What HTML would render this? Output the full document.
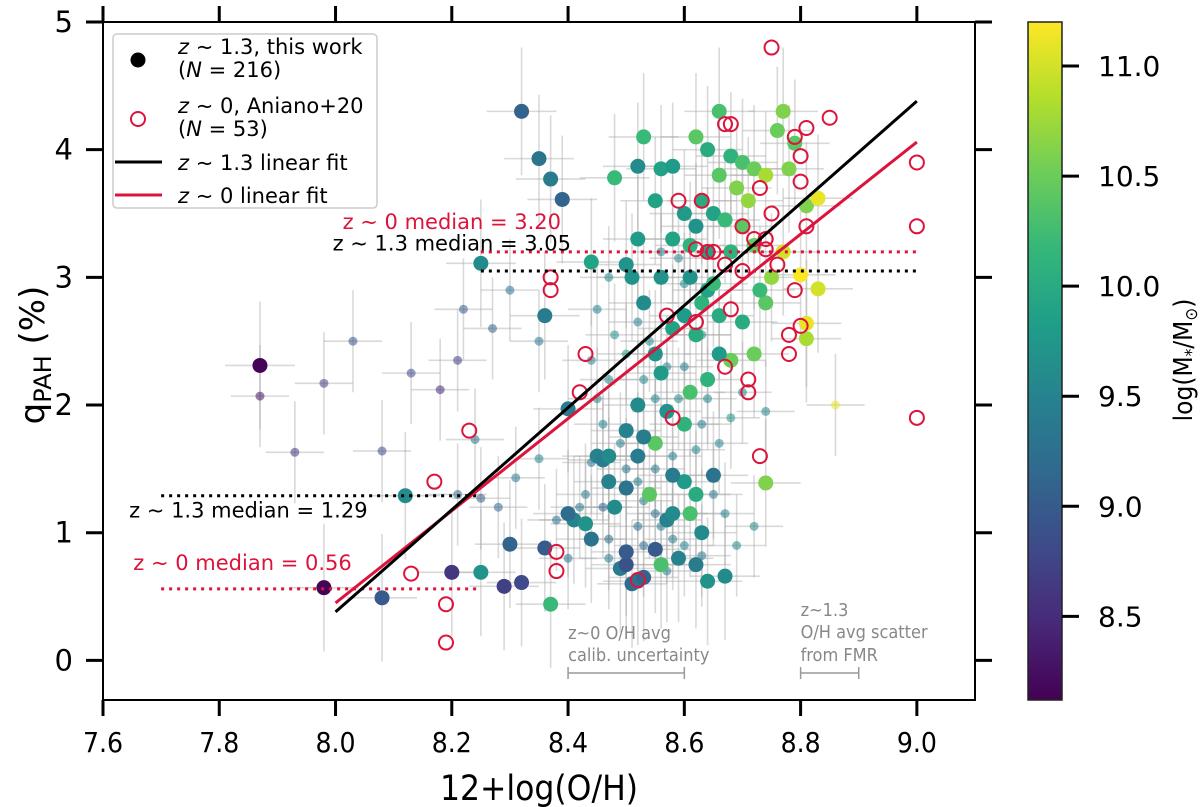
<!DOCTYPE html>
<html><head><meta charset="utf-8"><style>
body{margin:0;background:#fff}
svg{display:block;font-family:"DejaVu Sans","Liberation Sans",sans-serif}
</style></head><body>
<svg id="chart" width="1200" height="807" viewBox="0 0 1200 807"></svg>
<script>
// ---- data ----
const bigX=[7.87,7.98,8.08,8.12,8.20,8.25,8.29,8.32,8.30,8.36,8.37,8.32,8.35,8.37,8.39,8.36,8.25,8.44,8.48,8.40,8.41,8.43,8.44,8.40,8.45,8.46,8.47,8.48,8.49,8.51,8.50,8.52,8.55,8.56,8.50,8.53,8.57,8.58,8.59,8.61,8.62,8.64,8.67,8.60,8.65,8.74,8.55,8.50,8.53,8.52,8.56,8.55,8.62,8.60,8.58,8.63,8.64,8.66,8.65,8.61,8.56,8.53,8.51,8.52,8.50,8.55,8.56,8.58,8.52,8.53,8.66,8.62,8.64,8.68,8.70,8.72,8.74,8.66,8.69,8.71,8.63,8.65,8.67,8.70,8.62,8.60,8.58,8.61,8.64,8.68,8.72,8.76,8.77,8.79,8.78,8.81,8.83,8.80,8.83,8.81,8.81,8.74,8.72,8.73,8.70,8.68,8.66,8.64,8.61,8.57,8.60,8.52,8.58,8.63,8.62,8.54,8.47,8.50,8.75,8.77];
const bigY=[2.31,0.57,0.49,1.29,0.69,0.69,0.58,0.61,0.91,0.88,0.44,4.30,3.93,3.77,3.61,2.70,3.11,3.12,3.78,1.97,1.10,1.07,0.95,1.15,1.60,1.57,1.60,1.20,0.72,0.60,0.75,0.62,0.87,0.75,0.85,0.65,1.10,1.15,0.80,1.15,0.75,0.62,0.66,1.40,1.45,1.39,1.70,1.80,1.75,2.00,2.25,2.40,2.55,2.70,2.60,2.80,2.90,2.70,2.95,3.00,3.00,2.80,3.00,3.30,3.10,3.60,3.85,3.87,3.87,4.10,4.30,4.10,4.00,3.95,3.90,3.85,3.80,3.80,3.70,3.60,3.60,3.50,3.45,3.40,3.40,3.50,3.30,3.25,3.20,3.20,3.25,4.15,4.30,4.05,3.85,3.56,3.62,3.02,2.91,2.64,2.52,2.80,2.40,2.90,2.65,2.35,2.40,2.20,2.10,1.95,1.85,1.60,1.45,1.00,1.30,1.30,1.40,1.35,3.00,3.20];
const bigM=[8.15,8.15,9.0,9.6,8.6,9.7,8.7,8.8,9.1,9.0,10.2,9.1,9.3,9.4,9.1,9.4,9.6,9.9,10.2,9.4,9.5,9.7,9.3,9.2,9.5,9.4,9.6,9.6,9.4,9.2,8.9,9.3,9.0,10.3,9.0,9.1,9.5,9.6,9.5,10.3,9.4,9.7,9.6,9.8,9.3,10.6,10.4,9.5,9.4,9.6,9.8,9.7,10.0,9.8,9.9,10.1,9.9,10.0,10.2,9.7,9.7,9.6,9.7,9.8,9.7,9.9,9.9,9.8,9.6,10.2,10.3,10.4,10.0,10.1,10.3,10.5,10.8,10.4,10.6,10.7,10.0,9.9,10.2,10.4,9.7,9.8,9.9,10.1,9.9,10.1,10.5,10.5,10.6,10.4,10.6,10.6,11.1,11.2,11.0,11.1,10.8,10.4,10.5,10.2,10.0,10.5,9.8,10.1,10.3,9.7,10.1,9.4,9.4,9.6,10.0,10.4,9.5,9.3,10.7,11.0];
const smallX=[7.87,7.93,7.98,8.03,8.13,8.21,8.22,8.27,8.30,8.18,8.08,8.21,8.25,8.28,8.31,8.24,8.35,8.44,8.47,8.45,8.46,8.49,8.50,8.52,8.53,8.55,8.47,8.46,8.43,8.52,8.56,8.58,8.60,8.55,8.58,8.62,8.63,8.64,8.66,8.68,8.70,8.65,8.67,8.69,8.72,8.48,8.50,8.52,8.54,8.57,8.59,8.60,8.55,8.53,8.47,8.45,8.60,8.59,8.56,8.63,8.86,8.74,8.44,8.42,8.38,8.40,8.47,8.53,8.57,8.63,8.35];
const smallY=[2.07,1.63,2.17,2.50,2.25,2.35,2.75,2.60,2.90,2.12,1.64,1.30,1.27,1.20,1.43,1.73,2.50,2.35,2.20,2.05,1.85,1.70,1.50,1.40,1.25,1.15,0.95,1.20,1.30,1.05,1.05,0.95,0.90,1.50,1.60,1.65,1.85,2.05,1.70,1.90,2.10,1.30,1.15,0.90,1.05,2.55,2.40,2.65,2.50,2.30,2.05,2.30,2.05,2.20,3.00,2.75,2.95,3.15,3.20,2.55,2.00,1.95,1.55,1.20,1.10,0.80,0.80,0.90,0.70,0.82,1.58];
const smallM=[8.3,8.6,8.7,8.9,8.8,8.7,9.0,9.1,9.3,8.5,8.8,9.2,9.0,9.2,9.4,9.3,9.3,9.5,9.6,9.5,9.5,9.4,9.3,9.5,9.4,9.3,9.2,9.1,9.4,9.3,9.4,9.4,9.5,9.4,9.5,9.6,9.4,9.6,9.5,9.7,9.5,9.4,9.5,9.6,9.6,9.7,9.8,9.5,9.6,9.5,9.6,9.5,9.6,9.6,9.6,9.5,9.6,9.5,9.5,9.6,11.1,9.5,9.3,9.4,9.3,9.3,9.4,9.2,9.4,9.4,9.5];
const z0X=[8.75,8.85,8.67,8.68,8.81,8.79,8.80,8.80,8.73,8.75,8.63,8.81,8.72,8.65,8.62,8.67,8.76,8.74,8.74,8.70,8.64,8.37,8.37,8.68,8.79,8.80,8.78,8.78,8.57,8.67,8.71,8.71,8.43,8.42,8.58,8.23,8.17,8.73,8.38,8.38,8.52,8.13,8.19,8.19,9.00,9.00,9.00,8.59,8.62,8.70];
const z0Y=[4.80,4.25,4.20,4.20,4.17,4.10,3.95,3.75,3.70,3.50,3.60,3.40,3.30,3.20,3.22,3.10,3.10,3.22,3.30,3.05,3.20,3.00,2.90,2.75,2.90,2.62,2.55,2.40,2.70,2.30,2.20,2.10,2.40,2.10,1.90,1.80,1.40,1.60,0.85,0.70,0.63,0.68,0.44,0.14,3.90,3.40,1.90,3.60,2.65,3.40];
const fitZ13=[[8.0,0.38],[9.0,4.38]];
const fitZ0=[[8.0,0.45],[9.0,4.06]];
const medians=[{y:3.20,x0:8.25,x1:9.0,c:"#dc143c",label:"z ∼ 0 median = 3.20",lx:8.2,ly:3.38},
 {y:3.05,x0:8.25,x1:9.0,c:"#000",label:"z ∼ 1.3 median = 3.05",lx:8.2,ly:3.21},
 {y:1.29,x0:7.70,x1:8.25,c:"#000",label:"z ∼ 1.3 median = 1.29",lx:7.85,ly:1.12},
 {y:0.56,x0:7.70,x1:8.25,c:"#dc143c",label:"z ∼ 0 median = 0.56",lx:7.84,ly:0.71}];
const xTicks=[7.6,7.8,8.0,8.2,8.4,8.6,8.8,9.0];
const xTickLabels=["7.6","7.8","8.0","8.2","8.4","8.6","8.8","9.0"];
const yTicks=[0,1,2,3,4,5];
const yTickLabels=["0","1","2","3","4","5"];
const cTicks=[8.5,9.0,9.5,10.0,10.5,11.0];
const cTickLabels=["8.5","9.0","9.5","10.0","10.5","11.0"];

// ---- scales ----
const L=103,R=975,T=22,B=700,XMIN=7.6,XMAX=9.1,YMIN=-0.31,YMAX=5.0;
const sx=v=>L+(v-XMIN)/(XMAX-XMIN)*(R-L);
const sy=v=>B-(v-YMIN)/(YMAX-YMIN)*(B-T);
const CMIN=8.12,CMAX=11.2,CB_T=22,CB_B=700,CB_L=1028,CB_R=1062;
const sc=v=>CB_B-(v-CMIN)/(CMAX-CMIN)*(CB_B-CB_T);
const vir=[[68,1,84],[72,40,120],[62,74,137],[49,104,142],[38,130,142],[31,158,137],[53,183,121],[109,205,89],[180,222,44],[253,231,37]];
function cmap(m){let t=Math.max(0,Math.min(1,(m-CMIN)/(CMAX-CMIN)))*(vir.length-1);let i=Math.min(vir.length-2,Math.floor(t)),f=t-i;
 const c=vir[i].map((a,k)=>Math.round(a+(vir[i+1][k]-a)*f));return `rgb(${c.join(",")})`;}
const NS="http://www.w3.org/2000/svg";const svg=document.getElementById("chart");
function el(tag,attrs,parent){const e=document.createElementNS(NS,tag);for(const k in attrs)e.setAttribute(k,attrs[k]);(parent||svg).appendChild(e);return e;}

const defs=el("defs",{});const cp=el("clipPath",{id:"pc"},defs);el("rect",{x:L,y:T,width:R-L,height:B-T},cp);
const lg=el("linearGradient",{id:"vg",x1:0,y1:1,x2:0,y2:0},defs);
vir.forEach((c,i)=>el("stop",{offset:i/(vir.length-1),"stop-color":`rgb(${c.join(",")})`},lg));
const plot=el("g",{"clip-path":"url(#pc)"});



const eb=el("g",{stroke:"rgba(170,170,170,0.45)","stroke-width":1.6},plot);


function errs(xs,ys,dy,dx){xs.forEach((x,i)=>{const y=ys[i];
 el("line",{x1:sx(x),x2:sx(x),y1:sy(y-dy),y2:sy(y+dy)},eb);
 el("line",{x1:sx(x-dx),x2:sx(x+dx),y1:sy(y),y2:sy(y)},eb);});}
errs(bigX,bigY,0.5,0.06);errs(smallX,smallY,0.4,0.05);

const sg=el("g",{},plot);


smallX.forEach((x,i)=>{const c=el("circle",{cx:sx(x),cy:sy(smallY[i]),r:4.5,fill:cmap(smallM[i]),"fill-opacity":0.55},sg);
 
 });
const bg=el("g",{},plot);


bigX.forEach((x,i)=>{const c=el("circle",{cx:sx(x),cy:sy(bigY[i]),r:7.5,fill:cmap(bigM[i])},bg);
 
 });
const rg=el("g",{fill:"none",stroke:"#dc143c","stroke-width":2},plot);


z0X.forEach((x,i)=>{const c=el("circle",{cx:sx(x),cy:sy(z0Y[i]),r:7},rg);
 
 });

medians.forEach(m=>{const l=el("line",{x1:sx(m.x0),x2:sx(m.x1),y1:sy(m.y),y2:sy(m.y),stroke:m.c,"stroke-width":3,"stroke-dasharray":"3,5"},plot);
 
 
 const t=el("text",{x:sx(m.lx),y:sy(m.ly),fill:m.c,"font-size":21,"text-anchor":"middle"},plot);t.textContent=m.label;
 
 });
[[fitZ0,"#dc143c","z0-linear-fit"],[fitZ13,"#000","z13-linear-fit"]].forEach(([f,c,n])=>{
 const l=el("line",{x1:sx(f[0][0]),y1:sy(f[0][1]),x2:sx(f[1][0]),y2:sy(f[1][1]),stroke:c,"stroke-width":3},plot);
 
 });

const an=el("g",{fill:"#888","font-size":18,"font-family":"DejaVu Sans Condensed, DejaVu Sans, sans-serif"});


[["z~0 O/H avg",sx(8.4),639],["calib. uncertainty",sx(8.4),661],["z~1.3",sx(8.8),616],["O/H avg scatter",sx(8.8),638],["from FMR",sx(8.8),661]].forEach(a=>{const t=el("text",{x:a[1],y:a[2]},an);t.textContent=a[0];});
const ag=el("g",{stroke:"#999","stroke-width":1.5});


[[8.4,8.6],[8.8,8.9]].forEach(([a,b])=>{const y=673;el("line",{x1:sx(a),x2:sx(b),y1:y,y2:y},ag);el("line",{x1:sx(a),x2:sx(a),y1:y-6,y2:y+6},ag);el("line",{x1:sx(b),x2:sx(b),y1:y-6,y2:y+6},ag);});

const ax=el("g",{});


el("rect",{x:L,y:T,width:R-L,height:B-T,fill:"none",stroke:"#000","stroke-width":2},ax);
xTicks.forEach((v,i)=>{const x=sx(v);el("line",{x1:x,x2:x,y1:B,y2:B+16,stroke:"#000","stroke-width":3},ax);el("line",{x1:x,x2:x,y1:T,y2:T-16,stroke:"#000","stroke-width":3},ax);
 const t=el("text",{x:x,y:752,"text-anchor":"middle","font-size":28,"font-family":"DejaVu Sans Condensed, DejaVu Sans, sans-serif"},ax);t.textContent=xTickLabels[i];
 
 });
yTicks.forEach((v,i)=>{const y=sy(v);el("line",{x1:L,x2:L-17,y1:y,y2:y,stroke:"#000","stroke-width":3},ax);el("line",{x1:R,x2:R+17,y1:y,y2:y,stroke:"#000","stroke-width":3},ax);
 const t=el("text",{x:73,y:y+10,"text-anchor":"end","font-size":29},ax);t.textContent=yTickLabels[i];
 
 });
const xl=el("text",{x:539,y:800,"text-anchor":"middle","font-size":35,"font-family":"DejaVu Sans Condensed, DejaVu Sans, sans-serif"});xl.textContent="12+log(O/H)";


const yl=el("text",{x:0,y:0,"text-anchor":"middle","font-size":34,transform:"translate(44,355) rotate(-90)"});
yl.innerHTML='q<tspan font-size="24" dy="7">PAH</tspan><tspan dy="-7"> (%)</tspan>';



const cb=el("g",{});


el("rect",{x:CB_L,y:CB_T,width:CB_R-CB_L,height:CB_B-CB_T,fill:"url(#vg)",stroke:"#222","stroke-width":1.5},cb);
cTicks.forEach((v,i)=>{const y=sc(v);el("line",{x1:CB_R,x2:CB_R+17,y1:y,y2:y,stroke:"#000","stroke-width":3},cb);
 const t=el("text",{x:1098,y:y+10,"font-size":28},cb);t.textContent=cTickLabels[i];
 
 });
const ct=el("text",{x:0,y:0,"text-anchor":"middle","font-size":26,"font-family":"DejaVu Sans Condensed, DejaVu Sans, sans-serif",transform:"translate(1192,360) rotate(-90)"},cb);
ct.innerHTML='log(M<tspan font-size="17" dy="5">*</tspan><tspan dy="-5">/M</tspan><tspan font-size="17" dy="5">⊙</tspan><tspan dy="-5">)</tspan>';



const lgG=el("g",{});


el("rect",{x:113,y:34,width:264,height:174,rx:4,fill:"#fff","fill-opacity":0.85,stroke:"#ccc","stroke-width":1.5},lgG);
el("circle",{cx:138,cy:60,r:7.5,fill:"#000"},lgG);
el("circle",{cx:138,cy:119,r:7,fill:"none",stroke:"#dc143c","stroke-width":2},lgG);
el("line",{x1:115,x2:162,y1:162,y2:162,stroke:"#000","stroke-width":3},lgG);
el("line",{x1:115,x2:162,y1:195,y2:195,stroke:"#dc143c","stroke-width":3},lgG);
[["<tspan font-style='italic'>z</tspan> ∼ 1.3, this work",178,54],["(<tspan font-style='italic'>N</tspan> = 216)",178,77],
 ["<tspan font-style='italic'>z</tspan> ∼ 0, Aniano+20",178,113],["(<tspan font-style='italic'>N</tspan> = 53)",178,136],
 ["<tspan font-style='italic'>z</tspan> ∼ 1.3 linear fit",178,170],["<tspan font-style='italic'>z</tspan> ∼ 0 linear fit",178,203]].forEach(a=>{
 const t=el("text",{x:a[1],y:a[2],"font-size":21},lgG);t.innerHTML=a[0];
 
 });
</script>
</body></html>
